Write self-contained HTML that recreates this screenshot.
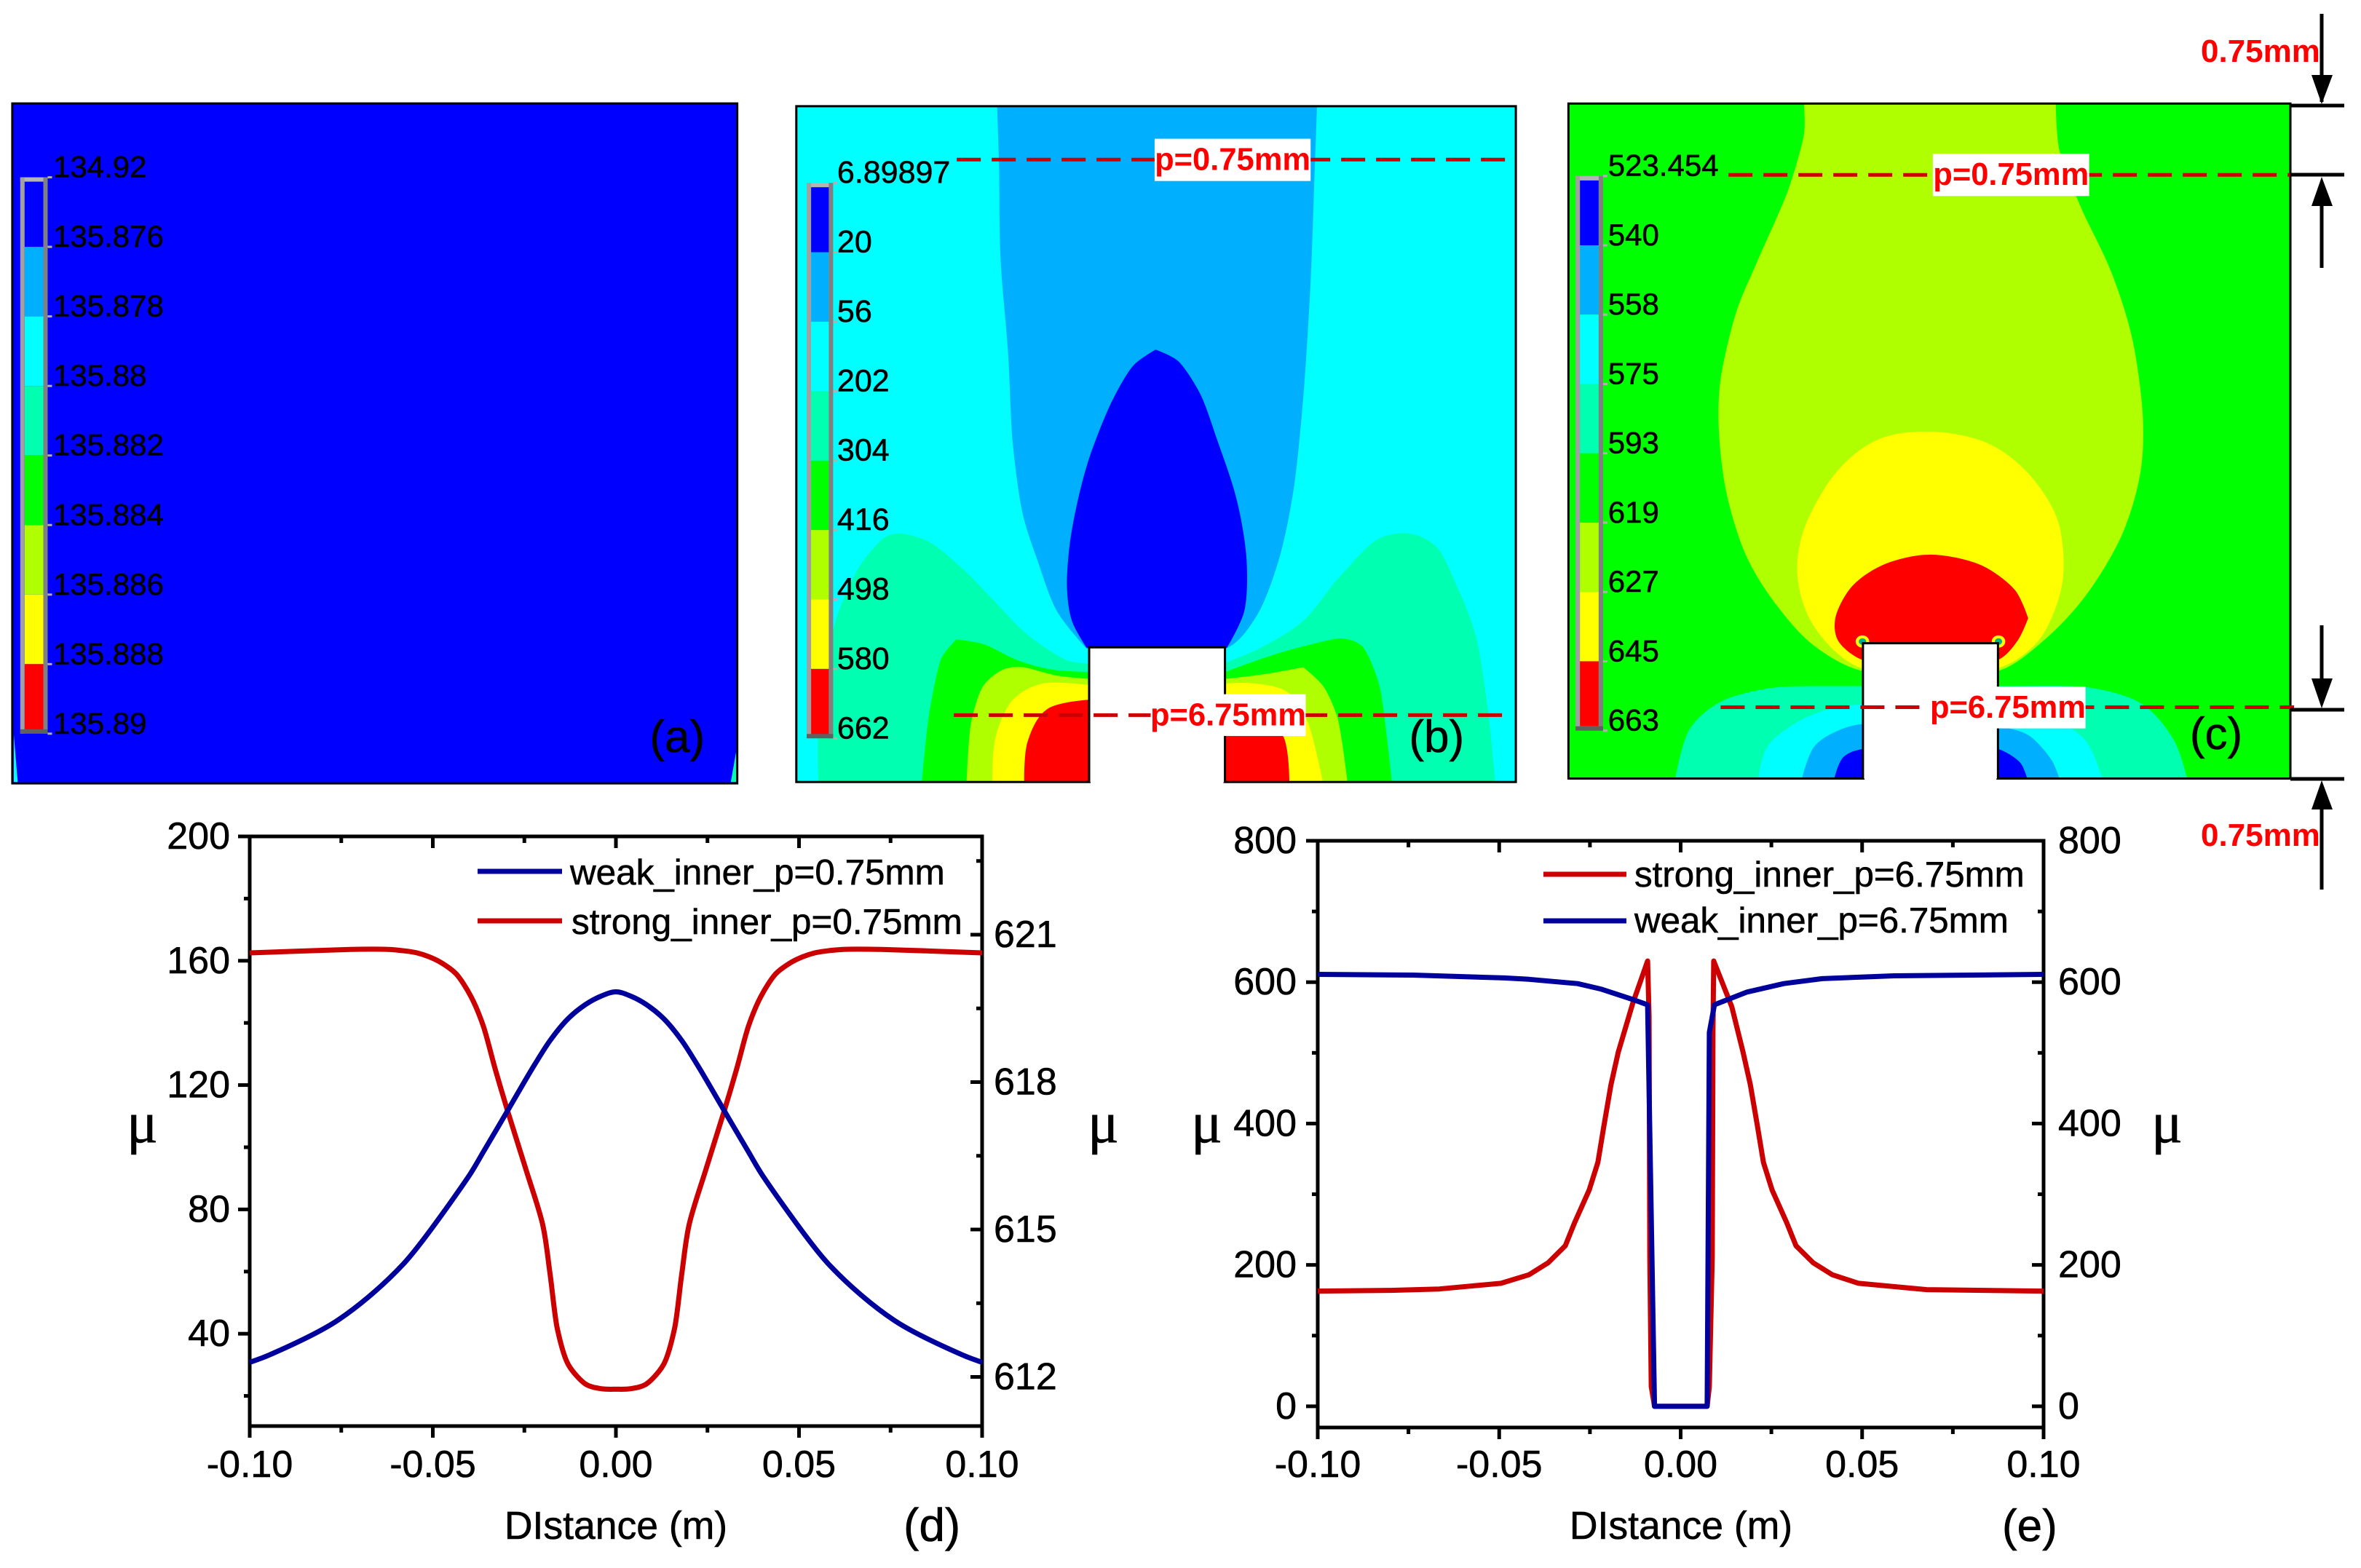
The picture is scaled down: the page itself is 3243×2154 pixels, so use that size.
<!DOCTYPE html>
<html>
<head>
<meta charset="utf-8">
<title>Contour maps and distance profiles</title>
<style>
html,body{margin:0;padding:0;background:#fff;width:3243px;height:2154px;overflow:hidden}
svg{display:block}
text{font-family:"Liberation Sans",sans-serif;fill:#000}
#chart-d text,#chart-e text,#overlay text{stroke:#000;stroke-width:.6px}
#overlay text.red{stroke:none}
.mu{font-family:"Liberation Serif",serif}
.red{fill:#ff0000;font-weight:bold}
</style>
</head>
<body>
<svg id="page" xmlns="http://www.w3.org/2000/svg" width="3243" height="2154" viewBox="0 0 3243 2154">
<rect x="0" y="0" width="3243" height="2154" fill="#fff"/>

<g id="panel-a" transform="translate(0,100) scale(0.676,0.638)">
  <rect x="25" y="66" width="1473" height="1464" fill="#0000ff"/>
  <polygon points="28,1425 36,1527 28,1527" fill="#00ffff"/>
  <polygon points="1496,1460 1496,1527 1485,1527" fill="#00ffb0"/>
  <rect x="25" y="66" width="1473" height="1464" fill="none" stroke="#000" stroke-width="3" vector-effect="non-scaling-stroke"/>
</g>

<g id="panel-b" transform="translate(1060,100) scale(0.676,0.638)">
  <rect x="50" y="72" width="1462" height="1455" fill="#00ffff"/>
  <path class="band" fill="#00b0ff" data-pts="458,72 462,200 465,400 480,600 490,800 510,950 540,1050 580,1160 640,1240 922,1240 985,1170 1030,1050 1060,900 1080,700 1095,450 1102,250 1108,72"/>
  <path class="band" fill="#0000ff" data-pts="780,596 735,630 690,710 645,830 620,930 605,1020 600,1110 610,1180 640,1238 925,1238 960,1160 965,1050 945,920 905,790 870,690 825,620"/>
  <path class="band" fill="#00ffb0" data-pts="95,1527 95,1400 130,1180 180,1060 230,1000 262,992 320,1010 390,1070 450,1135 520,1210 600,1265 645,1272 645,1527"/>
  <path class="band" fill="#00ffb0" data-pts="922,1270 990,1240 1080,1180 1150,1090 1230,1005 1295,992 1350,1020 1390,1100 1430,1210 1455,1370 1470,1527 922,1527"/>
  <path class="band" fill="#00ff00" data-pts="305,1527 320,1380 345,1260 375,1220 430,1230 500,1265 570,1285 645,1290 645,1527"/>
  <path class="band" fill="#00ff00" data-pts="922,1290 1000,1260 1080,1235 1160,1218 1200,1235 1235,1320 1260,1527 922,1527"/>
  <path class="band" fill="#b0ff00" data-pts="396,1527 405,1400 430,1320 470,1285 510,1280 580,1298 645,1305 645,1527"/>
  <path class="band" fill="#b0ff00" data-pts="922,1305 1000,1295 1080,1280 1120,1320 1150,1390 1170,1527 922,1527"/>
  <path class="band" fill="#ffff00" data-pts="448,1527 455,1430 490,1350 550,1315 645,1318 645,1527"/>
  <path class="band" fill="#ffff00" data-pts="922,1315 985,1315 1050,1335 1090,1400 1120,1527 922,1527"/>
  <path class="band" fill="#ff0000" data-pts="513,1527 520,1440 560,1370 645,1350 645,1527"/>
  <path class="band" fill="#ff0000" data-pts="922,1350 985,1370 1040,1430 1052,1527 922,1527"/>
  <rect x="50" y="72" width="1462" height="1455" fill="none" stroke="#000" stroke-width="3" vector-effect="non-scaling-stroke"/>
  <polyline points="645,1527 645,1237 921,1237 921,1527" fill="#fff" stroke="#000" stroke-width="3" vector-effect="non-scaling-stroke"/>
  <rect x="648" y="1520" width="270" height="12" fill="#fff"/>
</g>

<g id="panel-c" transform="translate(2120,0) scale(0.716,0.765)">
  <rect x="48" y="186" width="1385" height="1212" fill="#00ff00"/>
  <path class="band" fill="#b0ff00" data-pts="500,186 500,240 470,340 410,470 370,560 340,680 336,760 350,880 390,1000 450,1090 520,1160 612,1205 872,1205 960,1150 1040,1070 1110,960 1145,850 1150,750 1130,610 1090,490 1030,370 990,270 983,186"/>
  <path class="band" fill="#ffff00" data-pts="740,775 640,790 560,850 500,950 487,1030 510,1110 560,1170 612,1200 872,1200 950,1150 990,1070 998,1010 985,930 930,850 850,795"/>
  <path class="band" fill="#ff0000" data-pts="740,996 650,1015 590,1055 560,1110 565,1150 612,1185 872,1185 910,1150 930,1110 905,1060 840,1015"/>
  <ellipse cx="612" cy="1152" rx="13" ry="11" fill="#ffff00"/>
  <ellipse cx="612" cy="1152" rx="7" ry="6" fill="#00b090"/>
  <ellipse cx="873" cy="1152" rx="13" ry="11" fill="#ffff00"/>
  <ellipse cx="873" cy="1152" rx="7" ry="6" fill="#00b090"/>
  <path class="band" fill="#00ffb0" data-pts="253,1398 280,1310 340,1260 440,1235 612,1232 872,1232 1050,1235 1150,1265 1210,1330 1235,1398"/>
  <path class="band" fill="#00ffff" data-pts="412,1398 430,1340 490,1295 560,1270 612,1265 872,1265 960,1280 1040,1330 1072,1398"/>
  <path class="band" fill="#00b0ff" data-pts="496,1398 520,1340 570,1310 612,1300 872,1305 930,1320 975,1365 990,1398"/>
  <path class="band" fill="#0000ff" data-pts="558,1398 575,1360 612,1345 872,1345 915,1370 928,1398"/>
  <rect x="48" y="186" width="1385" height="1212" fill="none" stroke="#000" stroke-width="3" vector-effect="non-scaling-stroke"/>
  <polyline points="613,1398 613,1155 872,1155 872,1398" fill="#fff" stroke="#000" stroke-width="3" vector-effect="non-scaling-stroke"/>
  <rect x="616" y="1392" width="253" height="12" fill="#fff"/>
</g>

<g id="overlay"></g>
<g id="chart-d"></g>
<g id="chart-e"></g>

<g stroke="#000" stroke-width="5" fill="none">
  <line x1="3189" y1="19" x2="3189" y2="140"/>
  <line x1="3146" y1="145" x2="3220" y2="145"/>
  <line x1="3146" y1="240" x2="3220" y2="240"/>
  <line x1="3189" y1="280" x2="3189" y2="368"/>
  <line x1="3189" y1="859" x2="3189" y2="940"/>
  <line x1="3146" y1="975" x2="3220" y2="975"/>
  <line x1="3146" y1="1070" x2="3220" y2="1070"/>
  <line x1="3189" y1="1110" x2="3189" y2="1222"/>
  <polygon fill="#000" stroke="none" points="3175,103 3204,103 3189,143"/>
  <polygon fill="#000" stroke="none" points="3175,283 3204,283 3189,243"/>
  <polygon fill="#000" stroke="none" points="3175,932 3204,932 3189,973"/>
  <polygon fill="#000" stroke="none" points="3175,1112 3204,1112 3189,1072"/>
</g>
<text class="red" x="3023" y="85" font-size="44">0.75mm</text>
<text class="red" x="3023" y="1162" font-size="44">0.75mm</text>
</svg>

<script>
var NS = 'http://www.w3.org/2000/svg';

// ---- chart (d) data ----
var dDistance = [-0.10,-0.095,-0.076,-0.058,-0.04,-0.0362,-0.0296,-0.023,-0.018,-0.0131,-0.0082,-0.0041,0,0.0041,0.0082,0.0131,0.018,0.023,0.0296,0.0362,0.04,0.058,0.076,0.095,0.10];
var dWeak = [30.8,33,44.3,62.5,91,98.5,111.7,125,134.3,141.3,146,148.6,150,148.6,146,141.3,134.3,125,111.7,98.5,91,62.5,44.3,33,30.8];
var dStrongDistance = [-0.10,-0.0725,-0.062,-0.0576,-0.0543,-0.051,-0.0477,-0.0436,-0.0395,-0.0362,-0.0329,-0.0296,-0.0247,-0.02,-0.018,-0.016,-0.013,-0.0082,-0.004,0,0.004,0.0082,0.013,0.016,0.018,0.02,0.0247,0.0296,0.0329,0.0362,0.0395,0.0436,0.0477,0.051,0.0543,0.0576,0.062,0.0725,0.10];
var dStrong = [620.63,620.7,620.7,620.67,620.63,620.55,620.43,620.2,619.73,619.14,618.25,617.42,616.25,615.1,614.1,612.98,612.25,611.85,611.76,611.75,611.76,611.85,612.25,612.98,614.1,615.1,616.25,617.42,618.25,619.14,619.73,620.2,620.43,620.55,620.63,620.67,620.7,620.7,620.63];
var dLeftTicks = [200,160,120,80,40];
var dLeftMinor = [180,140,100,60,20];
var dRightTicks = [621,618,615,612];
var dRightMinor = [622.5,619.5,616.5,613.5];

// ---- chart (e) data ----
var eWeakDistance = [-0.10,-0.0737,-0.0486,-0.0418,-0.0284,-0.0218,-0.0132,-0.0091,-0.0072,0.0073,0.0079,0.0093,0.0183,0.0284,0.039,0.0588,0.08,0.10];
var eWeak = [611,610,606,604,598,590,575.5,568,0,0,529,568,586,598,605,609,610,611];
var eStrongDistance = [-0.10,-0.08,-0.0665,-0.0495,-0.0418,-0.0365,-0.0318,-0.0292,-0.0252,-0.0228,-0.0212,-0.0192,-0.0172,-0.0132,-0.0091,-0.0087,-0.0085,-0.0081,-0.0072,0.0073,0.0079,0.0087,0.0089,0.0091,0.0141,0.0172,0.0192,0.0212,0.0228,0.0252,0.0292,0.0318,0.0365,0.0418,0.049,0.0678,0.10];
var eStrong = [163,164,166,174,186,203,227,260,306,345,395,455,501,570,630,552,212,28,0,0,28,212,533,630,565,501,455,395,345,306,260,227,203,186,174,165,163];
var eLeftTicks = [800,600,400,200,0];
var eMinor = [700,500,300,100];

// ---- shared x axis ----
var xTicks = [-0.10,-0.05,0,0.05,0.10];
var xTickLabels = ['-0.10','-0.05','0.00','0.05','0.10'];
var xMinor = [-0.075,-0.025,0.025,0.075];

// ---- contour legend labels ----
var legendColors = ['#0000ff','#00b0ff','#00ffff','#00ffb0','#00ff00','#b0ff00','#ffff00','#ff0000'];
var legendALabels = ['134.92','135.876','135.878','135.88','135.882','135.884','135.886','135.888','135.89'];
var legendBLabels = ['6.89897','20','56','202','304','416','498','580','662'];
var legendCLabels = ['523.454','540','558','575','593','619','627','645','663'];

function mk(tag, attrs, parent, txt) {
  var el = document.createElementNS(NS, tag);
  for (var k in attrs) el.setAttribute(k, attrs[k]);
  if (txt !== undefined) el.textContent = txt;
  parent.appendChild(el);
  return el;
}

// ---------- smooth curve through points, keeping sharp corners ----------
function smoothD(p, closed) {
  var n = p.length;
  function at(i) { return closed ? p[(i + n) % n] : p[Math.max(0, Math.min(n - 1, i))]; }
  function handle(i) {
    var a = at(i - 1), b = at(i), c = at(i + 1);
    var ux = b[0] - a[0], uy = b[1] - a[1], vx = c[0] - b[0], vy = c[1] - b[1];
    var lu = Math.hypot(ux, uy), lv = Math.hypot(vx, vy);
    if (lu === 0 || lv === 0) return [0, 0];
    var cs = (ux * vx + uy * vy) / (lu * lv);
    if (cs < 0.64) return [0, 0];
    var dx = ux / lu + vx / lv, dy = uy / lu + vy / lv, l = Math.hypot(dx, dy);
    var m = Math.min(lu, lv) / 3;
    return [dx / l * m, dy / l * m];
  }
  var d = 'M' + p[0][0] + ' ' + p[0][1];
  var last = closed ? n : n - 1;
  for (var i = 0; i < last; i++) {
    var b = at(i), c = at(i + 1), hb = handle(i), hc = handle(i + 1);
    d += ' C' + (b[0] + hb[0]).toFixed(2) + ' ' + (b[1] + hb[1]).toFixed(2) + ' ' +
      (c[0] - hc[0]).toFixed(2) + ' ' + (c[1] - hc[1]).toFixed(2) + ' ' + c[0] + ' ' + c[1];
  }
  return d + (closed ? ' Z' : '');
}

document.querySelectorAll('path.band').forEach(function (el) {
  var pts = el.getAttribute('data-pts').split(' ').map(function (s) { return s.split(',').map(Number); });
  el.setAttribute('d', smoothD(pts, true));
  el.removeAttribute('data-pts');
});

// ---------- contour legends and cut lines ----------
var overlay = document.getElementById('overlay');

function drawLegend(name, p, box, labels, labelX, innerInset, letter, letterX, letterY, fontSize) {
  var fx = function (x) { return p.ox + x * p.sx; };
  var fy = function (y) { return p.oy + y * p.sy; };
  var step = (box.bot - box.top) / 8;
  for (var i = 0; i < 8; i++) {
    var top = i === 0 ? box.top + innerInset : box.top + i * step;
    var bot = i === 7 ? box.bot - innerInset : box.top + (i + 1) * step;
    var seg = mk('rect', { x: fx(box.x0), y: fy(top), width: fx(box.x1) - fx(box.x0), height: fy(bot) - fy(top), fill: legendColors[i] }, overlay);
    
    
  }
  var ft = mk('rect', { x: fx(box.x0) - 6, y: fy(box.top), width: fx(box.x1) - fx(box.x0) + 12, height: 6, fill: '#b4b4b4' }, overlay);
  
  
  var fl = mk('rect', { x: fx(box.x0) - 6, y: fy(box.top), width: 6, height: fy(box.bot) - fy(box.top), fill: '#a0a0a0' }, overlay);
  
  
  var fr = mk('rect', { x: fx(box.x1), y: fy(box.top), width: 6, height: fy(box.bot) - fy(box.top), fill: '#808080' }, overlay);
  
  
  var fb = mk('rect', { x: fx(box.x0) - 6, y: fy(box.bot) - 6, width: fx(box.x1) - fx(box.x0) + 12, height: 6, fill: '#606060' }, overlay);
  
  
  for (var j = 0; j < labels.length; j++) {
    var ty = fy(box.top + j * step);
    var tk = mk('line', { x1: fx(box.x1) + 6, x2: fx(box.x1) + 12, y1: ty, y2: ty, stroke: '#b0b0b0', 'stroke-width': 3 }, overlay);
    
    
    var lb = mk('text', { x: fx(labelX), y: ty, 'font-size': fontSize }, overlay, labels[j]);
    
    
  }
  var lt = mk('text', { x: fx(letterX), y: fy(letterY), 'font-size': 62 }, overlay, letter);
  
  
}

function drawCut(name, p, y, x0, x1, bx0, bx1, by0, by1, label) {
  var fx = function (x) { return p.ox + x * p.sx; };
  var fy = function (v) { return p.oy + v * p.sy; };
  var ln = mk('line', { x1: fx(x0), x2: fx(x1), y1: fy(y), y2: fy(y), stroke: '#cc0000', 'stroke-width': 5, 'stroke-dasharray': '33 15' }, overlay);
  
  
  var bx = mk('rect', { x: fx(bx0), y: fy(by0), width: fx(bx1) - fx(bx0), height: fy(by1) - fy(by0), fill: '#fff' }, overlay);
  
  
  var tx = mk('text', { x: (fx(bx0) + fx(bx1)) / 2, y: (fy(by0) + fy(by1)) / 2 + 14, 'font-size': 43.5, 'text-anchor': 'middle', 'class': 'red' }, overlay, label);
  
  
}

var pA = { ox: 0, oy: 100, sx: 0.676, sy: 0.638 };
var pB = { ox: 1060, oy: 100, sx: 0.676, sy: 0.638 };
var pC = { ox: 2120, oy: 0, sx: 0.716, sy: 0.765 };

drawLegend('legend-a', pA, { x0: 50, x1: 88, top: 225, bot: 1423 }, legendALabels, 108, 8, '(a)', 1320, 1462, 42);
drawLegend('legend-b', pB, { x0: 80, x1: 116, top: 237, bot: 1433 }, legendBLabels, 133, 8, '(b)', 1295, 1462, 43);
drawLegend('legend-c', pC, { x0: 70, x1: 106, top: 316, bot: 1312 }, legendCLabels, 124, 8, '(c)', 1240, 1345, 42);

drawCut('cut-b-upper', pB, 187, 376, 1495, 778, 1095, 142, 233, 'p=0.75mm');
drawCut('cut-b-lower', pB, 1383, 370, 1490, 770, 1085, 1338, 1428, 'p=6.75mm');
drawCut('cut-c-upper', pC, 314, 355, 1432, 747, 1047, 276, 352, 'p=0.75mm');
drawCut('cut-c-lower', pC, 1270, 340, 1440, 742, 1040, 1233, 1308, 'p=6.75mm');

// ---------- line charts ----------
function axisScale(d0, d1, r0, r1) {
  return function (v) { return r0 + (v - d0) / (d1 - d0) * (r1 - r0); };
}

function chartLine(parent, name, xs, ys, fx, fy, color) {
  var pts = [];
  for (var i = 0; i < xs.length; i++) pts.push(fx(xs[i]).toFixed(1) + ',' + fy(ys[i]).toFixed(1));
  var pl = mk('polyline', { points: pts.join(' '), fill: 'none', stroke: color, 'stroke-width': 7, 'stroke-linejoin': 'round' }, parent);
  
  
}

function chartCurve(parent, name, xs, ys, fx, fy, color) {
  var pts = [];
  for (var i = 0; i < xs.length; i++) pts.push([+fx(xs[i]).toFixed(1), +fy(ys[i]).toFixed(1)]);
  var pl = mk('path', { d: smoothD(pts, false), fill: 'none', stroke: color, 'stroke-width': 7, 'stroke-linejoin': 'round' }, parent);
  
  
}

function tickLine(parent, name, x1, y1, x2, y2) {
  var t = mk('line', { x1: x1, y1: y1, x2: x2, y2: y2, stroke: '#000', 'stroke-width': 5 }, parent);
  
  
}

function tickText(parent, name, x, y, anchor, str, size) {
  var t = mk('text', { x: x, y: y, 'text-anchor': anchor, 'font-size': size || 52 }, parent, str);
  
  
  return t;
}

function frame(parent, box, fx) {
  var r = mk('rect', { x: box.l, y: box.t, width: box.r - box.l, height: box.b - box.t, fill: 'none', stroke: '#000', 'stroke-width': 5 }, parent);
  
  
  for (var i = 0; i < xTicks.length; i++) {
    var x = fx(xTicks[i]);
    tickLine(parent, 'x-tick', x, box.b, x, box.b + 16);
    tickLine(parent, 'x-tick-top', x, box.t, x, box.t + 16);
    tickText(parent, 'x-tick-label', x, 2029, 'middle', xTickLabels[i]);
  }
  for (var j = 0; j < xMinor.length; j++) {
    var xm = fx(xMinor[j]);
    tickLine(parent, 'x-minor-tick', xm, box.b, xm, box.b + 9);
    tickLine(parent, 'x-minor-tick-top', xm, box.t, xm, box.t + 9);
  }
}

// chart d
var gd = document.getElementById('chart-d');
var boxD = { l: 343, r: 1349, t: 1149, b: 1959 };
var dX = axisScale(-0.10, 0.10, boxD.l, boxD.r);
var dYL = axisScale(200, 10.3, boxD.t, boxD.b);
var dYR = axisScale(623, 611, boxD.t, boxD.b);
frame(gd, boxD, dX);
dLeftTicks.forEach(function (v) {
  tickLine(gd, 'y-tick-left', boxD.l - 16, dYL(v), boxD.l, dYL(v));
  tickText(gd, 'y-tick-label-left', 316, dYL(v) + 17, 'end', String(v));
});
dLeftMinor.forEach(function (v) {
  tickLine(gd, 'y-minor-tick-left', boxD.l - 8, dYL(v), boxD.l, dYL(v));
});
dRightTicks.forEach(function (v) {
  tickLine(gd, 'y-tick-right', boxD.r - 16, dYR(v), boxD.r, dYR(v));
  tickText(gd, 'y-tick-label-right', 1365, dYR(v) + 17, 'start', String(v));
});
dRightMinor.forEach(function (v) {
  tickLine(gd, 'y-minor-tick-right', boxD.r - 8, dYR(v), boxD.r, dYR(v));
});
chartCurve(gd, 'strong-inner-line', dStrongDistance, dStrong, dX, dYR, '#cc0000');
chartCurve(gd, 'weak-inner-line', dDistance, dWeak, dX, dYL, '#00009c');
tickLine(gd, 'legend-weak-swatch', 656, 1197, 772, 1197);
gd.lastChild.setAttribute('stroke', '#00009c');
gd.lastChild.setAttribute('stroke-width', '7');
tickLine(gd, 'legend-strong-swatch', 656, 1265, 772, 1265);
gd.lastChild.setAttribute('stroke', '#cc0000');
gd.lastChild.setAttribute('stroke-width', '7');
tickText(gd, 'legend-weak-label', 783, 1215, 'start', 'weak_inner_p=0.75mm', 49.4);
tickText(gd, 'legend-strong-label', 785, 1283, 'start', 'strong_inner_p=0.75mm', 49.4);
tickText(gd, 'x-axis-title', 846, 2114, 'middle', 'DIstance (m)', 53.5);
tickText(gd, 'panel-letter-d', 1241, 2117, 'start', '(d)', 64);
tickText(gd, 'y-axis-title-left', 174, 1569, 'start', 'μ', 80).setAttribute('class', 'mu');
tickText(gd, 'y-axis-title-right', 1494, 1569, 'start', 'μ', 80).setAttribute('class', 'mu');

// chart e
var ge = document.getElementById('chart-e');
var boxE = { l: 1810, r: 2807, t: 1155, b: 1961 };
var eX = axisScale(-0.10, 0.10, boxE.l, boxE.r);
var eY = axisScale(800, -30, boxE.t, boxE.b);
frame(ge, boxE, eX);
eLeftTicks.forEach(function (v) {
  tickLine(ge, 'y-tick-left', boxE.l - 16, eY(v), boxE.l, eY(v));
  tickText(ge, 'y-tick-label-left', 1781, eY(v) + 17, 'end', String(v));
  tickLine(ge, 'y-tick-right', boxE.r - 16, eY(v), boxE.r, eY(v));
  tickText(ge, 'y-tick-label-right', 2827, eY(v) + 17, 'start', String(v));
});
eMinor.forEach(function (v) {
  tickLine(ge, 'y-minor-tick-left', boxE.l - 8, eY(v), boxE.l, eY(v));
  tickLine(ge, 'y-minor-tick-right', boxE.r - 8, eY(v), boxE.r, eY(v));
});
chartLine(ge, 'strong-inner-line', eStrongDistance, eStrong, eX, eY, '#cc0000');
chartLine(ge, 'weak-inner-line', eWeakDistance, eWeak, eX, eY, '#00009c');
tickLine(ge, 'legend-strong-swatch', 2120, 1201, 2234, 1201);
ge.lastChild.setAttribute('stroke', '#cc0000');
ge.lastChild.setAttribute('stroke-width', '7');
tickLine(ge, 'legend-weak-swatch', 2120, 1265, 2234, 1265);
ge.lastChild.setAttribute('stroke', '#00009c');
ge.lastChild.setAttribute('stroke-width', '7');
tickText(ge, 'legend-strong-label', 2245, 1218, 'start', 'strong_inner_p=6.75mm', 49.3);
tickText(ge, 'legend-weak-label', 2245, 1281, 'start', 'weak_inner_p=6.75mm', 49.3);
tickText(ge, 'x-axis-title', 2309, 2114, 'middle', 'DIstance (m)', 53.5);
tickText(ge, 'panel-letter-e', 2750, 2117, 'start', '(e)', 62);
tickText(ge, 'y-axis-title-left', 1636, 1569, 'start', 'μ', 80).setAttribute('class', 'mu');
tickText(ge, 'y-axis-title-right', 2955, 1569, 'start', 'μ', 80).setAttribute('class', 'mu');
</script>
</body>
</html>
